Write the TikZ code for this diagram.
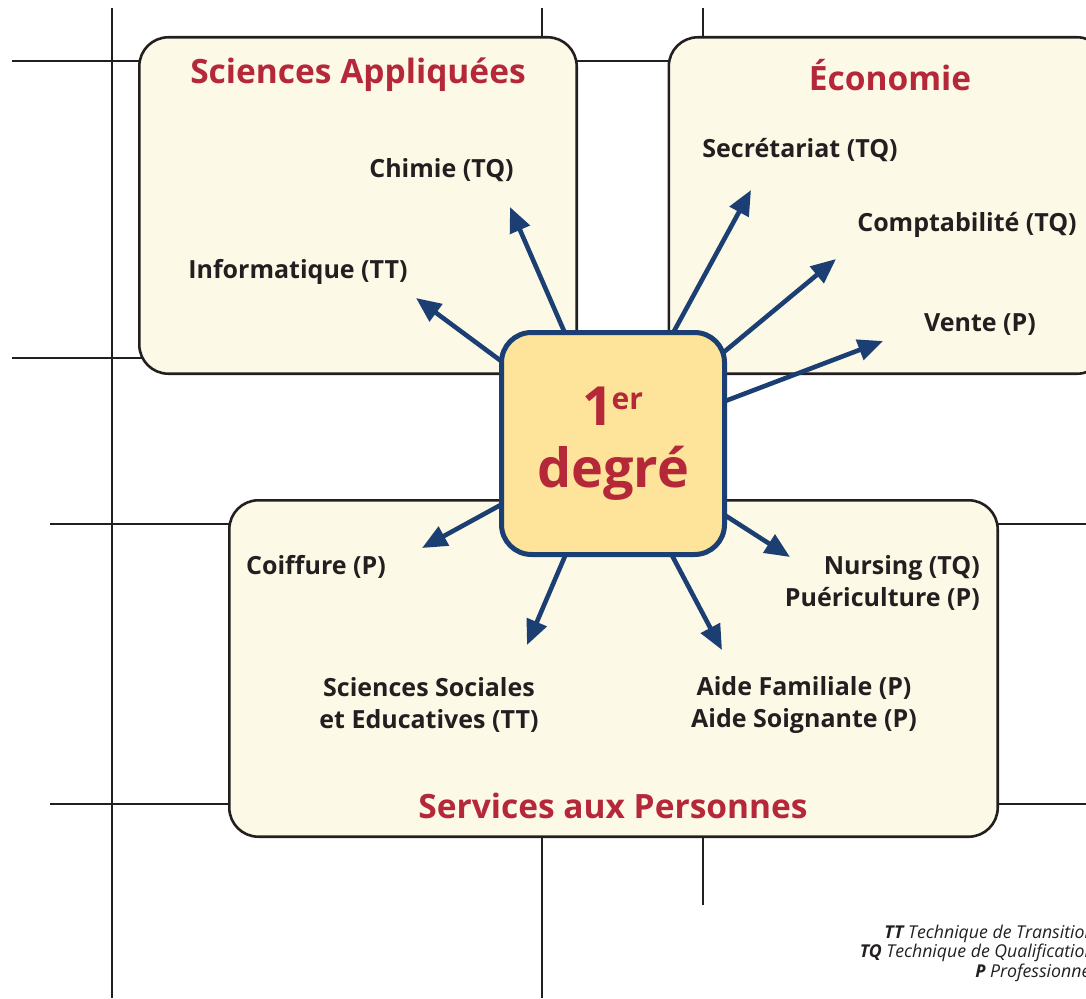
\documentclass[tikz,border=0pt]{standalone}
\usepackage{fontspec}
\setmainfont{Open Sans}
\usetikzlibrary{arrows.meta}
\definecolor{cream}{HTML}{FDF9E7}
\definecolor{titlered}{HTML}{B5283A}
\definecolor{navy}{HTML}{1B3F73}
\definecolor{gold}{HTML}{FDE49A}
\definecolor{ink}{HTML}{231F20}
\pgfdeclarelayer{bg}
\pgfdeclarelayer{mid}
\pgfsetlayers{bg,mid,main}
\tikzset{
  gridline/.style={draw=ink, line width=1.1pt},
  group/.style={draw=ink, line width=2.6pt, fill=cream, rounded corners=29pt, inner sep=0pt},
  hub/.style={draw=navy, line width=5pt, fill=gold, rounded corners=30pt,
    minimum width=223pt, minimum height=222pt, inner sep=0pt, align=center,
    text=titlered, font=\bfseries\fontsize{54}{62}\selectfont},
  title/.style={text=titlered, font=\bfseries\fontsize{33.5}{38}\selectfont, inner sep=0pt},
  lab/.style={text=ink, font=\bfseries\fontsize{25}{32}\selectfont, inner sep=0pt, align=center},
  arr/.style={draw=navy, line width=4.6pt, -{Triangle[length=25pt,width=21pt]}, shorten <=-10pt},
  legend/.style={text=ink, font=\itshape\fontsize{17.7}{19.5}\selectfont, align=right, inner sep=0pt, anchor=east}
}
\begin{document}
\begin{tikzpicture}[x=1pt,y=-1pt]
\useasboundingbox (0,0) rectangle (1086,998);
\clip (0,0) rectangle (1086,998);
\begin{pgfonlayer}{bg}
  \clip (0,0) rectangle (1086,998);
  \draw[gridline] (112,8) -- (112,998);
  \draw[gridline] (542,8) -- (542,998);
  \draw[gridline] (703,8) -- (703,905);
  \draw[gridline] (12,61) -- (1086,61);
  \draw[gridline] (12,358) -- (1086,358);
  \draw[gridline] (50,524) -- (1086,524);
  \draw[gridline] (50,804) -- (1086,804);
  \node[group, minimum width=437.4pt, minimum height=336.4pt] (sa) at (358,205.5) {};
  \node[group, minimum width=437.4pt, minimum height=336.4pt] (eco) at (887.5,205.5) {};
  \node[group, minimum width=768.4pt, minimum height=336.4pt] (sp) at (613.5,668.5) {};
\end{pgfonlayer}

\node[hub] (hub) at (613,443.5) {1\kern-2pt\raisebox{16pt}{\fontsize{30}{30}\selectfont er}\\degré};

\node[title] (tsa) at (358,75) {Sciences Appliquées};
\node[title] (teco) at (890,75) {Économie};
\node[title] (tsp) at (613,806) {Services aux Personnes};

\node[lab] (chimie) at (441.5,170) {Chimie (TQ)};
\node[lab] (info) at (298,272) {Informatique (TT)};
\node[lab] (secr) at (800,150) {Secrétariat (TQ)};
\node[lab] (compta) at (967,225) {Comptabilité (TQ)};
\node[lab] (vente) at (980,325) {Vente (P)};
\node[lab] (coif) at (316,567) {Coiffure (P)};
\node[lab, align=right, anchor=east] (nurs) at (980,583) {Nursing (TQ)\\Puériculture (P)};
\node[lab] (socio) at (429,705) {Sciences Sociales\\et Educatives (TT)};
\node[lab] (aide) at (804,705) {Aide Familiale (P)\\Aide Soignante (P)};

\coordinate (tchimie) at (510,207);
\coordinate (tinfo) at (416,298);
\coordinate (tsecr) at (751,190);
\coordinate (tcompta) at (836,259);
\coordinate (tvente) at (883,341);
\coordinate (tcoif) at (422,548);
\coordinate (tsocio) at (527,645);
\coordinate (taide) at (722,650);
\coordinate (tnurs) at (790,557);

\begin{pgfonlayer}{mid}
  \foreach \t in {tchimie,tinfo,tsecr,tcompta,tvente,tcoif,tsocio,taide,tnurs}
    \draw[arr] (hub) -- (\t);
\end{pgfonlayer}

\node[legend] (leg) at (1095,953) {\textbf{TT} Technique de Transition\\\textbf{TQ} Technique de Qualification\\\textbf{P} Professionnel};
\end{tikzpicture}
\end{document}
